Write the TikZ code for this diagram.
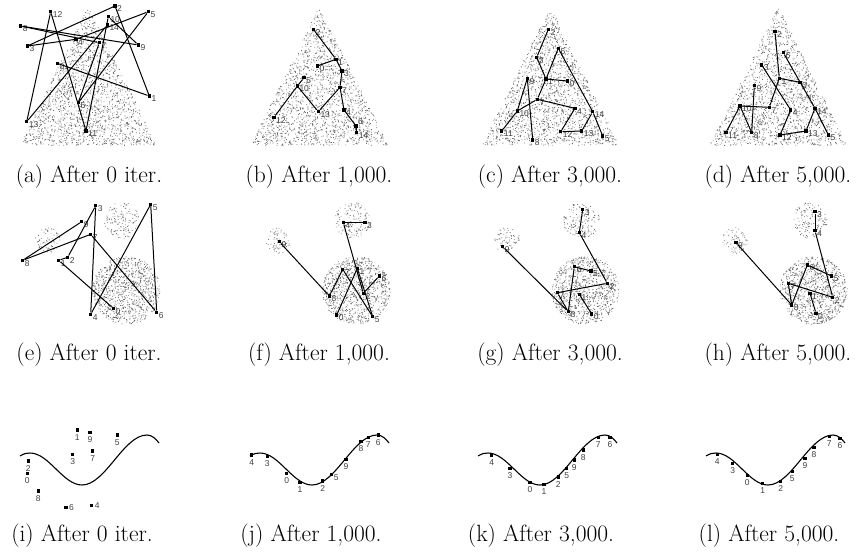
\documentclass[tikz,border=0pt]{standalone}
\usepackage{fontspec}
\newfontfamily\labfont{Liberation Sans}
\newcommand\PR[4]{\node[pt] (#1) at (#2,#3) {}; \node[lab,anchor=west] (#1l) at ([xshift=2pt,yshift=-3pt]#1.center) {#4};}
\newcommand\PB[4]{\node[pt] (#1) at (#2,#3) {}; \node[lab,anchor=north] (#1l) at ([yshift=-4pt]#1.center) {#4};}
\newcommand\PS[4]{\node[pt] (#1) at (#2,#3) {}; \node[lab,anchor=west] (#1l) at ([xshift=3pt]#1.center) {#4};}
\newcommand\PU[4]{\node[pt] (#1) at (#2,#3) {}; \node[lab,anchor=south west] (#1l) at ([xshift=2pt,yshift=1pt]#1.center) {#4};}
\newcommand\EG[2]{\draw[edge] (#1) -- (#2);}
\newcommand\tricloud[5]{\pgfmathsetseed{#5}%
  \fill[dotc] foreach \k [evaluate=\k as \cT using {sqrt(rnd)}] in {1,...,1800} {({#1+#4*\cT*(2*rnd-1)},{#2+(#3-#2)*\cT}) rectangle ++(0.8,0.8)};}
\newcommand\blob[5]{\pgfmathsetseed{#5}%
  \fill[dotc] foreach \k [evaluate=\k as \cR using {#3*sqrt(rnd)}, evaluate=\k as \cA using {360*rnd}] in {1,...,#4} {({#1+\cR*cos(\cA)},{#2+\cR*sin(\cA)}) rectangle ++(0.8,0.8)};}
\newcommand\blobs[2]{\blob{48+#1}{240}{13}{70}{#2}\blob{122+#1}{220}{18}{140}{#2+1}\blob{126+#1}{290}{34}{950}{#2+2}}
\begin{document}
\begin{tikzpicture}[x=1pt,y=-1pt,
  pt/.style={rectangle,fill=black,minimum size=3.2pt,inner sep=0pt},
  edge/.style={line width=1pt},
  dotc/.style={fill=black!55},
  lab/.style={font=\labfont\fontsize{8.5}{9}\selectfont,text=black!75,inner sep=0pt},
  capt/.style={font=\fontsize{23.5}{26}\selectfont,anchor=base,inner sep=0pt},
  curve/.style={line width=1.1pt}]
\useasboundingbox (0,0) rectangle (864,552);
% ---------- clouds ----------
\tricloud{88}{6}{145}{69}{11}
\tricloud{319}{6}{145}{69}{12}
\tricloud{550}{6}{145}{69}{13}
\tricloud{778}{6}{145}{69}{14}
\blobs{0}{21}
\blobs{230}{31}
\blobs{459}{41}
\blobs{687}{51}
% ---------- panel a ----------
\PR{a0}{57.3}{63.3}{0}\PR{a1}{149.3}{96}{1}\PR{a2}{115}{6}{2}\PR{a3}{27.3}{46}{3}
\PR{a4}{76}{39.3}{4}\PR{a5}{148.3}{11.7}{5}\PR{a6}{78.3}{102.7}{6}\PR{a7}{99.3}{42.7}{7}
\PR{a8}{20.7}{26}{8}\PR{a9}{138.3}{45}{9}\PR{a10}{108.3}{16.7}{10}\PR{a11}{86}{131}{11}
\PR{a12}{50.7}{11.7}{12}\PR{a13}{26.7}{121.7}{13}\PR{a14}{107.3}{25}{14}
\foreach \i [evaluate=\i as \j using int(\i+1)] in {0,...,13} {\draw[edge] (a\i) -- (a\j);}
% ---------- panel b ----------
\PR{b2}{313.3}{29.3}{2}\PR{b1}{336}{59.3}{1}\PR{b0}{317.3}{66}{0}\PR{b3}{342}{71}{3}
\PR{b5}{304}{77.7}{5}\PR{b10}{297.3}{86}{10}\PR{b7}{340}{87.3}{7}\PR{b13}{318.3}{111.7}{13}
\PR{b4}{344}{110}{4}\PR{b12}{274}{117.3}{12}\PU{b6}{356}{126}{6}\PR{b14}{356.7}{132.7}{14}
\EG{b2}{b1}\EG{b1}{b0}\EG{b1}{b3}\EG{b3}{b7}\EG{b7}{b13}\EG{b13}{b10}\EG{b10}{b5}
\EG{b10}{b12}\EG{b7}{b4}\EG{b4}{b6}\EG{b6}{b14}
% ---------- panel c ----------
\PR{c2}{548.3}{29.3}{2}\PR{c6}{558.3}{48.3}{6}\PR{c3}{536.7}{57.3}{3}\PR{c1}{546}{79}{1}
\PR{c0}{567.3}{81}{0}\PR{c9}{527.3}{78.3}{9}\PR{c7}{537.3}{99.3}{7}\PR{c4}{575}{108.3}{4}
\PR{c14}{592.7}{111.7}{14}\PR{c10}{517.3}{111}{10}\PR{c11}{501.7}{131}{11}\PR{c8}{532.7}{140}{8}
\PR{c12}{560.7}{131.7}{12}\PR{c13}{581.7}{131}{13}\PR{c5}{602.7}{136}{5}
\EG{c2}{c3}\EG{c3}{c1}\EG{c1}{c6}\EG{c1}{c0}\EG{c1}{c7}\EG{c6}{c14}\EG{c14}{c5}
\EG{c14}{c13}\EG{c13}{c12}\EG{c12}{c4}\EG{c4}{c7}\EG{c7}{c10}\EG{c10}{c11}\EG{c10}{c9}\EG{c9}{c8}
% ---------- panel d ----------
\PR{d2}{775}{31.7}{2}\PR{d6}{783.3}{52.7}{6}\PR{d3}{761.7}{65}{3}\PR{d1}{779.3}{78.3}{1}
\PR{d0}{800}{82.3}{0}\PR{d9}{754.3}{85.7}{9}\PR{d10}{740}{106}{10}\PR{d7}{769.3}{107.3}{7}
\PR{d4}{790.7}{110}{4}\PR{d14}{815}{108.3}{14}\PR{d11}{726}{132.3}{11}\PR{d8}{751.7}{132.7}{8}
\PR{d12}{780}{135}{12}\PR{d13}{806}{131}{13}\PR{d5}{828.3}{135}{5}
\EG{d2}{d1}\EG{d1}{d0}\EG{d1}{d7}\EG{d6}{d14}\EG{d3}{d4}\EG{d14}{d5}\EG{d14}{d13}
\EG{d13}{d12}\EG{d12}{d4}\EG{d7}{d10}\EG{d10}{d11}\EG{d10}{d8}\EG{d9}{d8}
% ---------- panel e ----------
\PR{e0}{113.3}{308.3}{0}\PR{e1}{58.7}{260.3}{1}\PR{e2}{67.7}{257.3}{2}\PR{e3}{95.7}{205.7}{3}
\PR{e4}{90.7}{314.3}{4}\PR{e5}{150.7}{204.3}{5}\PR{e6}{156.7}{312.3}{6}\PR{e7}{90.7}{234.3}{7}
\PR{e8}{22.7}{260.3}{8}\PR{e9}{81.7}{221.7}{9}
\foreach \i [evaluate=\i as \j using int(\i+1)] in {0,...,8} {\draw[edge] (e\i) -- (e\j);}
% ---------- panel f ----------
\PR{f9}{279.3}{241.7}{9}\PR{f4}{343.3}{222.7}{4}\PR{f3}{365}{222.7}{3}\PR{f8}{329.3}{296}{8}
\PR{f7}{342.7}{269.3}{7}\PR{f1}{357.3}{268.3}{1}\PR{f6}{379.3}{276}{6}\PR{f2}{363.3}{293.3}{2}
\PR{f0}{336.7}{315}{0}\PR{f5}{372.7}{316.7}{5}
\EG{f9}{f8}\EG{f8}{f7}\EG{f7}{f5}\EG{f4}{f3}\EG{f4}{f2}\EG{f1}{f0}\EG{f1}{f5}\EG{f2}{f6}
% ---------- panel g ----------
\PR{g3}{582.7}{209.3}{3}\PR{g4}{579.3}{232.7}{4}\PR{g9}{502.7}{246.7}{9}\PR{g6}{574.3}{266.7}{6}
\PR{g5}{591}{271}{5}\PR{g2}{607.3}{283.3}{2}\PR{g7}{557.3}{292.7}{7}\PR{g1}{579.3}{294.3}{1}
\PR{g8}{568.3}{311.7}{8}\PR{g0}{591.7}{314}{0}
\EG{g3}{g4}\EG{g4}{g2}\EG{g9}{g8}\EG{g6}{g5}\EG{g6}{g8}\EG{g2}{g7}\EG{g7}{g8}\EG{g1}{g0}
% ---------- panel h ----------
\PR{h3}{815}{211.7}{3}\PR{h4}{815}{230.7}{4}\PR{h9}{736}{242.7}{9}\PR{h6}{807.3}{265}{6}
\PR{h5}{831.7}{276}{5}\PR{h7}{788.3}{283.3}{7}\PR{h2}{832.7}{297.3}{2}\PR{h1}{810}{293.3}{1}
\PR{h8}{791.7}{305}{8}\PR{h0}{816}{313.3}{0}
\EG{h3}{h4}\EG{h4}{h2}\EG{h9}{h8}\EG{h8}{h6}\EG{h6}{h5}\EG{h7}{h2}\EG{h7}{h8}\EG{h1}{h0}
% ---------- row 3 curves ----------
\foreach \s in {0,230,458,686} {
\draw[curve] (20+\s,456) .. controls (24+\s,453.5) and (26.5+\s,453) .. (30+\s,453)
  .. controls (49+\s,453) and (63+\s,485) .. (82+\s,485)
  .. controls (105.5+\s,485) and (123.5+\s,435) .. (147+\s,435)
  .. controls (152+\s,435) and (156+\s,439) .. (159+\s,443);}
% panel i
\PB{i1}{77.3}{430}{1}\PB{i9}{90}{432.3}{9}\PB{i5}{117.3}{435}{5}\PB{i3}{72.7}{454.3}{3}
\PB{i7}{92.7}{451}{7}\PB{i2}{28.3}{461}{2}\PB{i0}{27.3}{473.3}{0}\PB{i8}{38.3}{491}{8}
\PS{i6}{66}{507.7}{6}\PS{i4}{91.7}{505.7}{4}
% panel j
\PB{j4}{251.7}{455}{4}\PB{j3}{267.3}{456.7}{3}\PB{j0}{286.7}{473.3}{0}\PB{j1}{300}{482.3}{1}
\PB{j2}{322.7}{481}{2}\PR{j5}{331.7}{474.3}{5}\PB{j9}{346}{459.3}{9}\PB{j8}{361}{441.7}{8}
\PB{j7}{368.3}{437.7}{7}\PB{j6}{378.3}{435}{6}
% panel k
\PB{k4}{491.7}{455}{4}\PB{k3}{510}{468.3}{3}\PB{k0}{530}{482.3}{0}\PB{k1}{544}{484.3}{1}
\PB{k2}{558.3}{477}{2}\PB{k5}{566.7}{468.3}{5}\PB{k9}{574.3}{460}{9}\PB{k8}{583.3}{450}{8}
\PB{k7}{598.3}{437.7}{7}\PB{k6}{610}{437.7}{6}
% panel l
\PB{l4}{717.3}{454.3}{4}\PB{l3}{732.7}{463.3}{3}\PB{l0}{747.3}{475.7}{0}\PB{l1}{762.7}{483.3}{1}
\PB{l2}{780.7}{481.7}{2}\PB{l5}{792.3}{471.7}{5}\PB{l9}{805}{458.3}{9}\PB{l8}{814}{447.7}{8}
\PB{l7}{829.3}{436.7}{7}\PB{l6}{840}{438.3}{6}
% ---------- captions ----------
\node[capt] (capa) at (89,182) {(a) After 0 iter.};
\node[capt] (capb) at (319,182) {(b) After 1,000.};
\node[capt] (capc) at (550,182) {(c) After 3,000.};
\node[capt] (capd) at (778,182) {(d) After 5,000.};
\node[capt] (cape) at (89,360) {(e) After 0 iter.};
\node[capt] (capf) at (319,360) {(f) After 1,000.};
\node[capt] (capg) at (550,360) {(g) After 3,000.};
\node[capt] (caph) at (778,360) {(h) After 5,000.};
\node[capt] (capi) at (82,541) {(i) After 0 iter.};
\node[capt] (capj) at (311,541) {(j) After 1,000.};
\node[capt] (capk) at (541,541) {(k) After 3,000.};
\node[capt] (capl) at (769,541) {(l) After 5,000.};
\end{tikzpicture}
\end{document}
